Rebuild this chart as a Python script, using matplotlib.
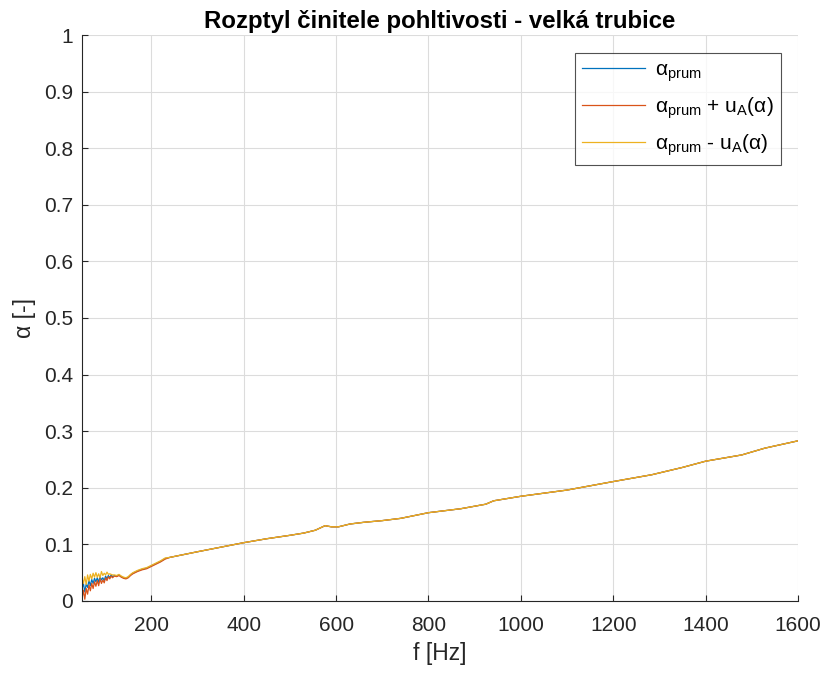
import matplotlib
matplotlib.use("Agg")
import matplotlib.pyplot as plt
from matplotlib.ticker import FormatStrFormatter, MultipleLocator

plt.rcParams['font.family'] = ['Liberation Sans', 'DejaVu Sans']
plt.rcParams['mathtext.fontset'] = 'custom'
plt.rcParams['mathtext.rm'] = 'Liberation Sans'
plt.rcParams['mathtext.it'] = 'Liberation Sans:italic'
plt.rcParams['mathtext.bf'] = 'Liberation Sans:bold'

# low-frequency part (noisy, the three series differ)
f_low = [50, 53, 56, 59, 62, 65, 68, 71, 74, 77, 80, 83, 86, 89, 92, 95, 98,
         101, 104, 107, 110, 113, 116, 120, 125, 130, 135, 140, 145, 150, 155,
         160, 170, 180, 190, 200, 210, 220, 230]
alpha_mean_low = [0.022, 0.031, 0.016, 0.030, 0.024, 0.036, 0.027, 0.038, 0.031,
                  0.040, 0.034, 0.041, 0.033, 0.043, 0.037, 0.041, 0.036, 0.044,
                  0.039, 0.045, 0.041, 0.046, 0.043, 0.045, 0.044, 0.046, 0.043,
                  0.041, 0.040, 0.042, 0.046, 0.049, 0.053, 0.056, 0.058, 0.062,
                  0.066, 0.070, 0.075]
alpha_plus_low = [0.004, 0.019, 0.003, 0.022, 0.012, 0.028, 0.018, 0.031, 0.022,
                  0.034, 0.026, 0.036, 0.027, 0.039, 0.031, 0.037, 0.032, 0.041,
                  0.036, 0.043, 0.039, 0.044, 0.041, 0.044, 0.043, 0.045, 0.042,
                  0.040, 0.039, 0.041, 0.045, 0.048, 0.052, 0.055, 0.057, 0.061,
                  0.065, 0.069, 0.074]
alpha_minus_low = [0.040, 0.031, 0.043, 0.029, 0.046, 0.035, 0.047, 0.039, 0.049,
                   0.042, 0.050, 0.042, 0.048, 0.041, 0.052, 0.045, 0.049, 0.046,
                   0.051, 0.047, 0.048, 0.047, 0.046, 0.046, 0.045, 0.047, 0.044,
                   0.042, 0.041, 0.043, 0.047, 0.050, 0.054, 0.057, 0.059, 0.063,
                   0.067, 0.071, 0.076]

# higher frequencies (all three series overlap)
f_high = [240, 300, 350, 400, 450, 500, 530, 555, 576, 590, 605, 630, 660, 700,
          740, 800, 870, 924, 941, 1000, 1100, 1200, 1283, 1350, 1400, 1478,
          1528, 1600]
alpha_high = [0.077, 0.087, 0.095, 0.103, 0.110, 0.116, 0.120, 0.125, 0.133,
              0.131, 0.131, 0.136, 0.139, 0.142, 0.146, 0.156, 0.163, 0.171,
              0.177, 0.185, 0.196, 0.211, 0.223, 0.236, 0.247, 0.258, 0.270,
              0.283]

freq = f_low + f_high
alpha_mean = alpha_mean_low + alpha_high
alpha_plus = alpha_plus_low + alpha_high
alpha_minus = alpha_minus_low + alpha_high

fig = plt.figure(figsize=(8.27, 6.77), dpi=100)
ax = fig.add_axes([0.0992, 0.1123, 0.8658, 0.836])

ax.plot(freq, alpha_mean, color='#0072BD', lw=0.9, label=r'α$_{\mathrm{prum}}$')
ax.plot(freq, alpha_plus, color='#D95319', lw=0.9,
        label=r'α$_{\mathrm{prum}}$ + u$_{\mathrm{A}}$(α)')
ax.plot(freq, alpha_minus, color='#EDB120', lw=0.9,
        label=r'α$_{\mathrm{prum}}$ - u$_{\mathrm{A}}$(α)')

ax.set_xlim(50, 1600)
ax.set_ylim(0, 1)
ax.xaxis.set_major_locator(MultipleLocator(200))
ax.yaxis.set_major_locator(MultipleLocator(0.1))
ax.yaxis.set_major_formatter(FormatStrFormatter('%g'))

ax.grid(True, color='#dcdcdc', lw=0.8)
ax.set_axisbelow(True)
for side in ['top', 'right']:
    ax.spines[side].set_visible(False)
for side in ['left', 'bottom']:
    ax.spines[side].set_color('#262626')
ax.tick_params(direction='in', length=4, labelsize=15, colors='#262626',
               labelcolor='#262626')
ax.tick_params(axis='x', pad=11)
ax.tick_params(axis='y', pad=6.5)

ax.set_xlabel('f [Hz]', fontsize=16.5, color='#262626', labelpad=5)
ax.set_ylabel('α [-]', fontsize=16.5, color='#262626', labelpad=6)
ax.set_title('Rozptyl činitele pohltivosti - velká trubice', fontsize=17.3,
             fontweight='bold', pad=5)

leg = ax.legend(loc='upper right', bbox_to_anchor=(0.976, 0.968), fontsize=15,
                frameon=True, fancybox=False, edgecolor='#262626',
                handlelength=3.0, borderpad=0.35, labelspacing=0.55,
                handletextpad=0.5, borderaxespad=0)
leg.get_frame().set_linewidth(0.8)

fig.savefig('out.png', dpi=100)
